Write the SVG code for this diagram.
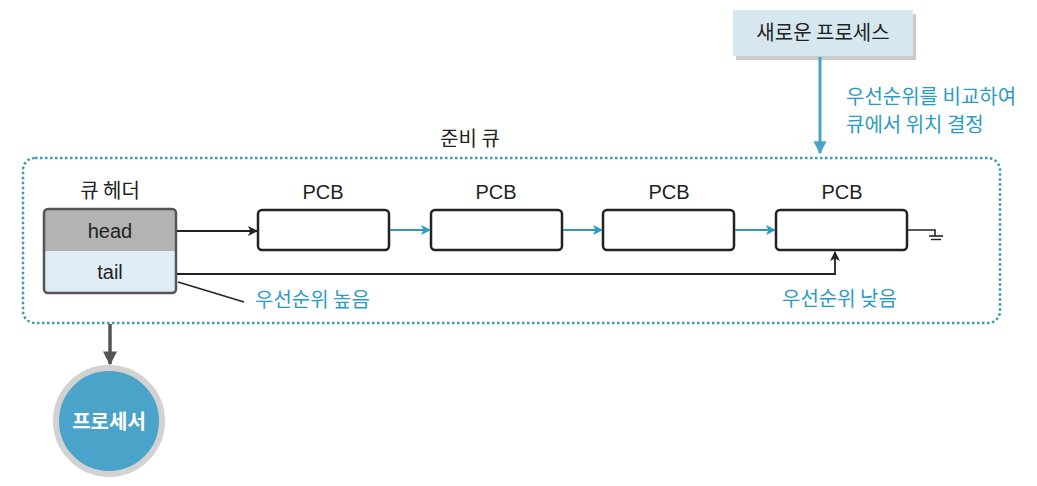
<svg xmlns="http://www.w3.org/2000/svg" width="1037" height="486" viewBox="0 0 1037 486">
<style>
.t{font-family:"Noto Sans CJK KR","Liberation Sans",sans-serif;font-size:20px;fill:#222}
.b{fill:#2a9cc4}
.pcb{fill:#fff;stroke:#222;stroke-width:2.5}
.lbl{font-family:"Liberation Sans","Noto Sans CJK KR",sans-serif;font-size:20px;fill:#222;text-anchor:middle}
</style>
<defs>
<marker id="ak" viewBox="0 0 10 10" refX="9" refY="5" markerWidth="11" markerHeight="10" orient="auto" markerUnits="userSpaceOnUse"><path d="M0,0L10,5L0,10L2.5,5z" fill="#222"/></marker>
<marker id="ab" viewBox="0 0 10 10" refX="9" refY="5" markerWidth="11" markerHeight="10" orient="auto" markerUnits="userSpaceOnUse"><path d="M0,0L10,5L0,10L2.5,5z" fill="#2a9cc4"/></marker>
<marker id="abig" viewBox="0 0 10 10" refX="9" refY="5" markerWidth="13" markerHeight="14" orient="auto" markerUnits="userSpaceOnUse"><path d="M0,0L10,5L0,10z" fill="#4aa3c8"/></marker>
<marker id="ag" viewBox="0 0 10 10" refX="9" refY="5" markerWidth="14" markerHeight="15" orient="auto" markerUnits="userSpaceOnUse"><path d="M0,0L10,5L0,10z" fill="#555"/></marker>
</defs>
<rect width="1037" height="486" fill="#fff"/>

<g id="ready-queue">
<rect x="23" y="158" width="977" height="165" rx="12" fill="none" stroke="#3a9bb0" stroke-width="2.5" stroke-dasharray="2.5 2.5"/>
<text x="470" y="146" class="t" text-anchor="middle" font-size="19">준비 큐</text>
</g>

<g id="new-process">
<rect x="736" y="14" width="180" height="46" fill="#a9a9a9" opacity="0.6"/>
<rect x="733" y="10" width="180" height="46" fill="#d7e7f0"/>
<text x="823" y="40" class="t" text-anchor="middle">새로운 프로세스</text>
</g>

<g id="queue-header">
<text x="110" y="198" class="t" text-anchor="middle">큐 헤더</text>
<rect x="44" y="209" width="132" height="84" rx="4" fill="#deedf5"/>
<path d="M48,209H172a4,4 0 0 1 4,4V251H44V213a4,4 0 0 1 4,-4z" fill="#b3b3b3"/>
<rect x="44" y="209" width="132" height="84" rx="4" fill="none" stroke="#555" stroke-width="2.5"/>
<text x="110" y="238" class="lbl">head</text>
<text x="110" y="279" class="lbl">tail</text>
</g>

<g id="pcb1"><text x="323" y="199" class="lbl">PCB</text><rect x="258" y="210" width="131" height="40" rx="4" class="pcb"/></g>
<g id="pcb2"><text x="496" y="199" class="lbl">PCB</text><rect x="431" y="210" width="131" height="40" rx="4" class="pcb"/></g>
<g id="pcb3"><text x="669" y="199" class="lbl">PCB</text><rect x="603" y="210" width="131" height="40" rx="4" class="pcb"/></g>
<g id="pcb4"><text x="842" y="199" class="lbl">PCB</text><rect x="776" y="210" width="131" height="40" rx="4" class="pcb"/></g>

<g id="processor">
<circle cx="109" cy="421" r="53" fill="#4aa3c8" stroke="#d2d2d2" stroke-width="6"/>
<text x="109" y="429" class="t" text-anchor="middle" style="fill:#fff;font-weight:bold" font-size="21">프로세서</text>
</g>

<g id="connectors" fill="none">
<line x1="820" y1="57" x2="820" y2="153" stroke="#4aa3c8" stroke-width="3" marker-end="url(#abig)"/>
<line x1="177" y1="231" x2="257" y2="231" stroke="#222" stroke-width="1.8" marker-end="url(#ak)"/>
<line x1="390" y1="230" x2="430" y2="230" stroke="#2a9cc4" stroke-width="1.8" marker-end="url(#ab)"/>
<line x1="563" y1="230" x2="602" y2="230" stroke="#2a9cc4" stroke-width="1.8" marker-end="url(#ab)"/>
<line x1="735" y1="230" x2="775" y2="230" stroke="#2a9cc4" stroke-width="1.8" marker-end="url(#ab)"/>
<polyline points="177,274 835,274 835,252" stroke="#222" stroke-width="1.8" marker-end="url(#ak)"/>
<polyline points="908,230 935,230 935,236" stroke="#222" stroke-width="1.6"/>
<line x1="929" y1="236" x2="943" y2="236" stroke="#222" stroke-width="1.6"/>
<line x1="931" y1="239.5" x2="941" y2="239.5" stroke="#222" stroke-width="1.4"/>
<line x1="178" y1="282" x2="244" y2="302" stroke="#222" stroke-width="1.6"/>
<line x1="110" y1="324" x2="110" y2="364" stroke="#555" stroke-width="3.5" marker-end="url(#ag)"/>
</g>

<g id="labels">
<text x="846" y="104" class="t" style="fill:#2a9cc4">우선순위를 비교하여</text>
<text x="846" y="132" class="t" style="fill:#2a9cc4">큐에서 위치 결정</text>
<text x="255" y="307" class="t" style="fill:#2a9cc4">우선순위 높음</text>
<text x="782" y="306" class="t" style="fill:#2a9cc4">우선순위 낮음</text>
</g>
</svg>
